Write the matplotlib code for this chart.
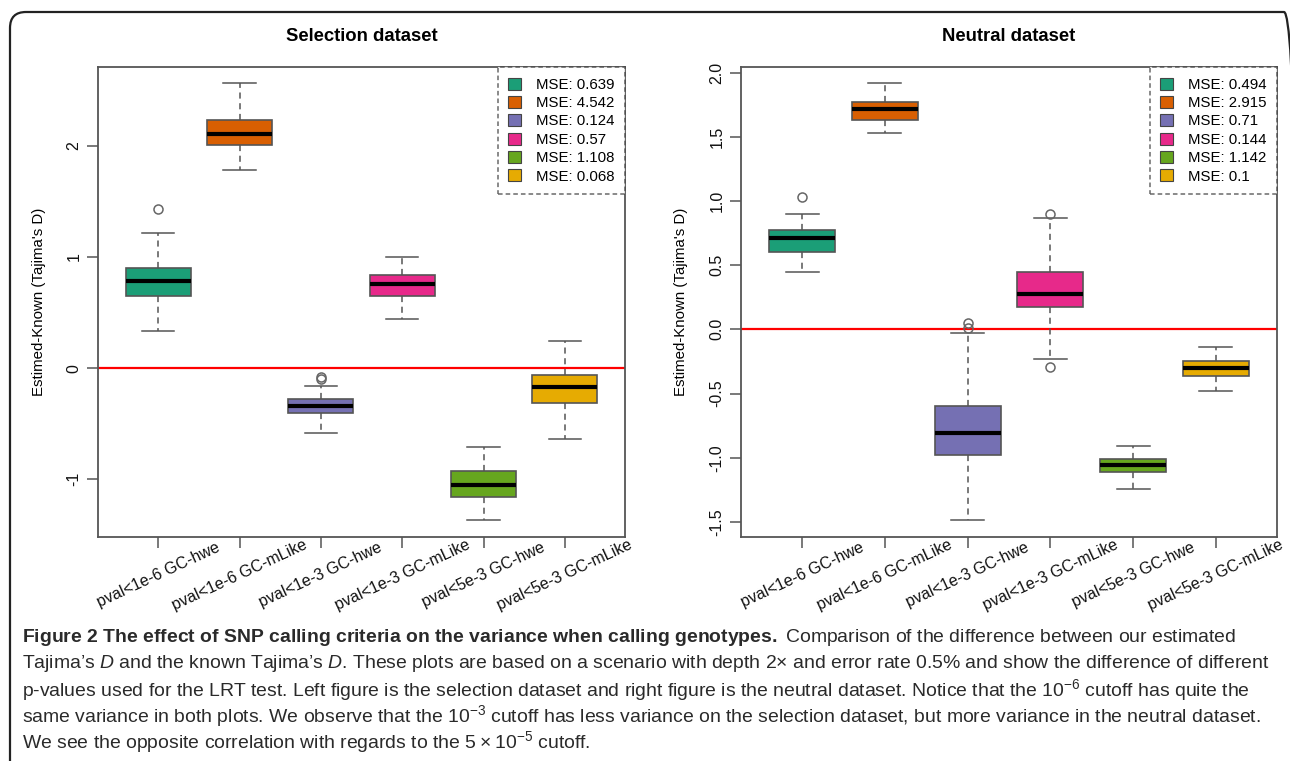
import matplotlib.pyplot as plt
from matplotlib.patches import Patch, FancyBboxPatch

# box colours (Dark2)
colors = ['#1B9E77', '#D95F02', '#7570B3', '#E7298A', '#66A61E', '#E6AB02']

labels = ['pval<1e-6 GC-hwe', 'pval<1e-6 GC-mLike', 'pval<1e-3 GC-hwe',
          'pval<1e-3 GC-mLike', 'pval<5e-3 GC-hwe', 'pval<5e-3 GC-mLike']

# selection dataset: whislo, q1, med, q3, whishi, outliers
sel_whislo = [0.33, 1.78, -0.58, 0.44, -1.37, -0.64]
sel_q1 = [0.65, 2.005, -0.405, 0.65, -1.16, -0.31]
sel_med = [0.78, 2.11, -0.34, 0.76, -1.05, -0.17]
sel_q3 = [0.90, 2.23, -0.28, 0.84, -0.93, -0.06]
sel_whishi = [1.22, 2.57, -0.16, 1.00, -0.71, 0.24]
sel_fliers = [[1.43], [], [-0.08, -0.10], [], [], []]
sel_mse = ['0.639', '4.542', '0.124', '0.57', '1.108', '0.068']

# neutral dataset
neu_whislo = [0.45, 1.53, -1.485, -0.234, -1.24, -0.48]
neu_q1 = [0.60, 1.63, -0.98, 0.176, -1.11, -0.36]
neu_med = [0.71, 1.72, -0.81, 0.275, -1.06, -0.30]
neu_q3 = [0.77, 1.77, -0.60, 0.45, -1.01, -0.25]
neu_whishi = [0.90, 1.92, -0.026, 0.87, -0.906, -0.135]
neu_fliers = [[1.03], [], [0.05, 0.01], [0.90, -0.29], [], []]
neu_mse = ['0.494', '2.915', '0.71', '0.144', '1.142', '0.1']

caption = [
    r"$\mathbf{Figure\ 2\ The\ effect\ of\ SNP\ calling\ criteria\ on\ the\ variance\ when\ calling\ genotypes.}$"
    " Comparison of the difference between our estimated",
    "Tajima\u2019s $D$ and the known Tajima\u2019s $D$. These plots are based on a scenario with depth 2\u00d7 "
    "and error rate 0.5% and show the difference of different",
    "p-values used for the LRT test. Left figure is the selection dataset and right figure is the neutral "
    "dataset. Notice that the 10$^{-6}$ cutoff has quite the",
    "same variance in both plots. We observe that the 10$^{-3}$ cutoff has less variance on the selection "
    "dataset, but more variance in the neutral dataset.",
    "We see the opposite correlation with regards to the 5\u2009\u00d7\u200910$^{-5}$ cutoff.",
]

plt.rcParams['font.family'] = ['Liberation Sans', 'DejaVu Sans']
plt.rcParams['mathtext.fontset'] = 'custom'
plt.rcParams['mathtext.rm'] = 'Liberation Sans'
plt.rcParams['mathtext.it'] = 'Liberation Sans:italic'
plt.rcParams['mathtext.bf'] = 'Liberation Sans:bold'

fig = plt.figure(figsize=(12.9, 7.61), dpi=100)

border = FancyBboxPatch((0.10, -0.6), 12.9, 8.09,
                        boxstyle='round,pad=0,rounding_size=0.16',
                        transform=fig.dpi_scale_trans, fill=False,
                        edgecolor='#222222', lw=1.6)
fig.patches.append(border)


def panel(ax, title, whislo, q1, med, q3, whishi, fliers, mse, ylim, yticks, fmt):
    stats = []
    for i in range(len(labels)):
        stats.append(dict(whislo=whislo[i], q1=q1[i], med=med[i], q3=q3[i],
                          whishi=whishi[i], fliers=fliers[i]))
    bp = ax.bxp(stats, positions=range(1, 7), widths=0.8, patch_artist=True,
                showfliers=True,
                boxprops=dict(edgecolor='#555555', lw=1.2),
                whiskerprops=dict(color='#555555', lw=1.1, ls=(0, (4, 3))),
                capprops=dict(color='#555555', lw=1.1),
                medianprops=dict(color='black', lw=3),
                flierprops=dict(marker='o', markersize=6.5, markerfacecolor='none',
                                markeredgecolor='#666666', mew=1.1))
    for b, c in zip(bp['boxes'], colors):
        b.set_facecolor(c)
    for cap in bp['caps']:
        x = cap.get_xdata()
        m = (x[0] + x[1]) / 2
        cap.set_xdata([m - 0.2, m + 0.2])
    ax.axhline(0, color='red', lw=1.6, zorder=0.5)
    ax.set_xlim(0.26, 6.74)
    ax.set_ylim(*ylim)
    ax.set_yticks(yticks)
    ax.set_yticklabels([fmt % t for t in yticks],
                       rotation=90, va='center', fontsize=11.5, color='#111111')
    ax.set_xticks(range(1, 7))
    ax.set_xticklabels([])
    ax.tick_params(length=8, width=1.1, color='#555555', pad=4)
    for i, lab in enumerate(labels):
        ax.text(i + 1, -0.08, lab, transform=ax.get_xaxis_transform(), rotation=25,
                ha='center', va='center', fontsize=11.5, color='#111111')
    for s in ax.spines.values():
        s.set_color('#555555')
        s.set_linewidth(1.3)
    ax.set_title(title, fontsize=13.3, fontweight='bold', pad=19)
    ax.set_ylabel("Estimed-Known (Tajima's D)", fontsize=10.8, labelpad=15)
    handles = [Patch(facecolor=c, edgecolor='#444444', lw=0.8) for c in colors]
    leg = ax.legend(handles, ['MSE: ' + m for m in mse], loc='upper right',
                    borderaxespad=0, fancybox=False, fontsize=10.8,
                    handlelength=0.85, handleheight=0.85, handletextpad=1.0,
                    labelspacing=0.28, borderpad=0.7)
    fr = leg.get_frame()
    fr.set_linestyle((0, (3, 2)))
    fr.set_edgecolor('#444444')
    fr.set_linewidth(1.1)


ax1 = fig.add_axes([0.076, 0.2943, 0.4085, 0.6176])
panel(ax1, 'Selection dataset', sel_whislo, sel_q1, sel_med, sel_q3, sel_whishi,
      sel_fliers, sel_mse, (-1.52, 2.71), [-1, 0, 1, 2], '%g')

ax2 = fig.add_axes([0.5744, 0.2943, 0.4155, 0.6176])
panel(ax2, 'Neutral dataset', neu_whislo, neu_q1, neu_med, neu_q3, neu_whishi,
      neu_fliers, neu_mse, (-1.618, 2.043), [-1.5, -1.0, -0.5, 0.0, 0.5, 1.0, 1.5, 2.0], '%.1f')

# caption lines, font size fitted so the longest line spans the box width
ys = [637, 664, 690, 716, 742]
texts = []
for line, y in zip(caption, ys):
    t = fig.text(22 / 1290, 1 - y / 761, line, ha='left', va='center', fontsize=14,
                 color='#2a2a2a')
    texts.append(t)
fig.canvas.draw()
r = fig.canvas.get_renderer()
w = texts[1].get_window_extent(r).width
for t in texts:
    t.set_fontsize(14 * 1253 / w)

fig.savefig('out.png', dpi=100)
